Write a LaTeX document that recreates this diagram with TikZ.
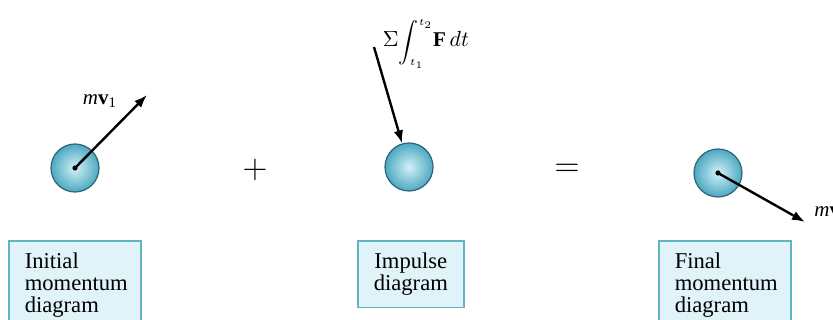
\documentclass[tikz,border=0pt]{standalone}
\usepackage{fontspec}
\setmainfont{Liberation Serif}
\usepackage{tikz}
\usetikzlibrary{arrows.meta,positioning}
\definecolor{ballin}{HTML}{D2F1F7}
\definecolor{ballout}{HTML}{4DA8C2}
\definecolor{balledge}{HTML}{2B6777}
\definecolor{boxfill}{HTML}{DFF3F8}
\definecolor{boxedge}{HTML}{62B4C4}

\begin{document}
\begin{tikzpicture}[
  x=0.5pt,y=-0.5pt,
  ball/.style={circle,draw=balledge,line width=0.6pt,minimum size=24pt,
    inner sep=0pt,inner color=ballin,outer color=ballout},
  vec/.style={-{Latex[length=6.5pt,width=4.8pt]},line width=1.2pt},
  dot/.style={circle,fill=black,inner sep=0pt,minimum size=2.6pt},
  caption/.style={draw=boxedge,line width=0.8pt,fill=boxfill,anchor=north west,
    align=left,text width=50pt,inner xsep=8pt,inner ysep=6pt,
    font=\fontsize{11.3pt}{11pt}\selectfont},
  sym/.style={font=\fontsize{18pt}{18pt}\selectfont},
  vlabel/.style={font=\fontsize{10.5pt}{12pt}\selectfont,inner sep=1pt}
]
\clip (0,0) rectangle (833,320);
\fill[white] (0,0) rectangle (833,320);

% balls
\node[ball] (ball1) at (75,168) {};
\node[ball] (ball2) at (409,167) {};
\node[ball] (ball3) at (718,173) {};

% operators
\node[sym] (plus) at (255,170) {$+$};
\node[sym] (equal) at (567,170) {$=$};

% momentum and impulse vectors
\coordinate (tip1) at (147,95);
\coordinate (imp) at (374,47);
\coordinate (tip3) at (805,222);
\node[dot] (c1) at (ball1.center) {};
\node[dot] (c3) at (ball3.center) {};
\draw[vec] (c1.center) -- (tip1);
\draw[vec] (imp) -- (ball2);
\draw[vec] (c3.center) -- (tip3);

\node[vlabel,inner sep=0pt] (lab2) at (426,44)
  {$\Sigma$\fontsize{6.8pt}{8pt}\selectfont$\displaystyle\int_{t_1}^{t_2}$%
   \fontsize{10.5pt}{12pt}\selectfont$\mathbf{F}\,dt$};
\node[vlabel] (lab1) at (100,101) {\textit{m}\textbf{v}\textsubscript{1}};
\node[vlabel,anchor=west] (lab3) at (812,213) {\textit{m}\textbf{v}\textsubscript{2}};

% captions
\node[caption] (init) at (8,240) {Initial\\momentum\\diagram};
\node[caption,text width=37pt,align=center] (impulse) at (357,240) {Impulse\\diagram};
\node[caption] (final) at (658,240) {Final\\momentum\\diagram};
\end{tikzpicture}
\end{document}
